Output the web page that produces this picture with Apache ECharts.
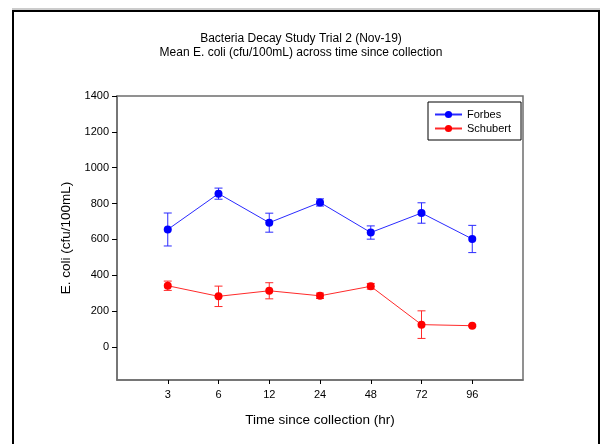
<!DOCTYPE html>
<html><head><meta charset="utf-8">
<script src="https://cdn.jsdelivr.net/npm/echarts@6/dist/echarts.min.js"></script>
<style>html,body{margin:0;padding:0;background:#fff}#c{width:602px;height:444px}</style>
</head><body><div id="c"></div>
<script>
const categories = ['3', '6', '12', '24', '48', '72', '96'];
const forbesMean = [655, 855, 693, 806, 638, 747, 602];
const forbesErr = [92, 31, 53, 20, 37, 57, 76];
const schubertMean = [341, 282, 313, 285, 338, 124, 118];
const schubertErr = [26, 57, 45, 15, 16, 77, 5];
const yTicks = [0, 200, 400, 600, 800, 1000, 1200, 1400];

const FONT = 'Liberation Sans, Arial, sans-serif';
const catPos = categories.map((c, i) => i + 1);

function pts(mean) { return mean.map((v, i) => [catPos[i], v]); }
function errs(mean, err) { return mean.map((v, i) => [catPos[i], v - err[i], v + err[i]]); }

function errRender(color) {
  return function (params, api) {
    const x = api.value(0), lo = api.value(1), hi = api.value(2);
    const pHi = api.coord([x, hi]), pLo = api.coord([x, lo]);
    const hw = 4;
    const style = { stroke: color, lineWidth: 1 };
    return { type: 'group', children: [
      { type: 'line', shape: { x1: pHi[0], y1: pHi[1], x2: pLo[0], y2: pLo[1] }, style },
      { type: 'line', shape: { x1: pHi[0] - hw, y1: pHi[1], x2: pHi[0] + hw, y2: pHi[1] }, style },
      { type: 'line', shape: { x1: pLo[0] - hw, y1: pLo[1], x2: pLo[0] + hw, y2: pLo[1] }, style }
    ]};
  };
}

const chart = echarts.init(document.getElementById('c'), null, { renderer: 'canvas' });
chart.setOption({
  animation: false,
  backgroundColor: '#fff',
  title: {
    text: 'Bacteria Decay Study Trial 2 (Nov-19)\nMean E. coli (cfu/100mL) across time since collection',
    left: 'center', top: 32, padding: 0,
    textStyle: { fontFamily: FONT, fontSize: 12, fontWeight: 'normal', color: '#000', lineHeight: 14, align: 'center' }
  },
  legend: {
    data: ['Forbes', 'Schubert'],
    orient: 'vertical',
    left: 428, top: 102,
    padding: [7, 10, 6, 6],
    itemGap: 3,
    itemWidth: 27, itemHeight: 9,
    borderColor: '#000', borderWidth: 1,
    textStyle: { fontFamily: FONT, fontSize: 11, color: '#000' }
  },
  grid: { left: 117, top: 96, width: 406, height: 284, show: true, borderColor: '#6e6e6e', borderWidth: 1.5, backgroundColor: 'transparent' },
  xAxis: {
    type: 'value', min: 0, max: 8,
    name: 'Time since collection (hr)', nameLocation: 'middle', nameGap: 33,
    nameTextStyle: { fontFamily: FONT, fontSize: 13.5, color: '#000' },
    splitLine: { show: false },
    axisLine: { show: true, onZero: false, lineStyle: { color: '#6e6e6e', width: 1.5 } },
    axisTick: { show: true, customValues: catPos, length: 4, lineStyle: { color: '#000' } },
    axisLabel: { customValues: catPos, formatter: v => categories[Math.round(v) - 1] || '', fontFamily: FONT, fontSize: 11, color: '#000', margin: 9 }
  },
  yAxis: {
    type: 'value', min: -185, max: 1400,
    name: 'E. coli (cfu/100mL)', nameLocation: 'middle', nameGap: 41, nameRotate: 90,
    nameTextStyle: { fontFamily: FONT, fontSize: 13.5, color: '#000' },
    splitLine: { show: false },
    axisLine: { show: true, onZero: false, lineStyle: { color: '#6e6e6e', width: 1.5 } },
    axisTick: { show: true, customValues: yTicks, length: 5, lineStyle: { color: '#000' } },
    axisLabel: { customValues: yTicks, formatter: v => String(v), fontFamily: FONT, fontSize: 11, color: '#000', margin: 8 }
  },
  graphic: [
    { type: 'line', shape: { x1: 12, y1: 9, x2: 600, y2: 9 }, style: { stroke: '#999', lineWidth: 1 }, z: 100 },
    { type: 'rect', shape: { x: 13, y: 11, width: 586, height: 450 }, style: { stroke: '#000', fill: 'none', lineWidth: 2 }, z: 100 }
  ],
  series: [
    { type: 'custom', name: 'ForbesErr', data: errs(forbesMean, forbesErr), renderItem: errRender('#2a2aff'), z: 1, silent: true },
    { type: 'custom', name: 'SchubertErr', data: errs(schubertMean, schubertErr), renderItem: errRender('#ff2a2a'), z: 1, silent: true },
    { type: 'line', name: 'Forbes', data: pts(forbesMean), symbol: 'circle', symbolSize: 8,
      itemStyle: { color: '#0000ff' }, lineStyle: { color: '#2a2aff', width: 1 }, z: 3 },
    { type: 'line', name: 'Schubert', data: pts(schubertMean), symbol: 'circle', symbolSize: 8,
      itemStyle: { color: '#ff0000' }, lineStyle: { color: '#ff2a2a', width: 1 }, z: 3 }
  ]
});
</script>
</body></html>
